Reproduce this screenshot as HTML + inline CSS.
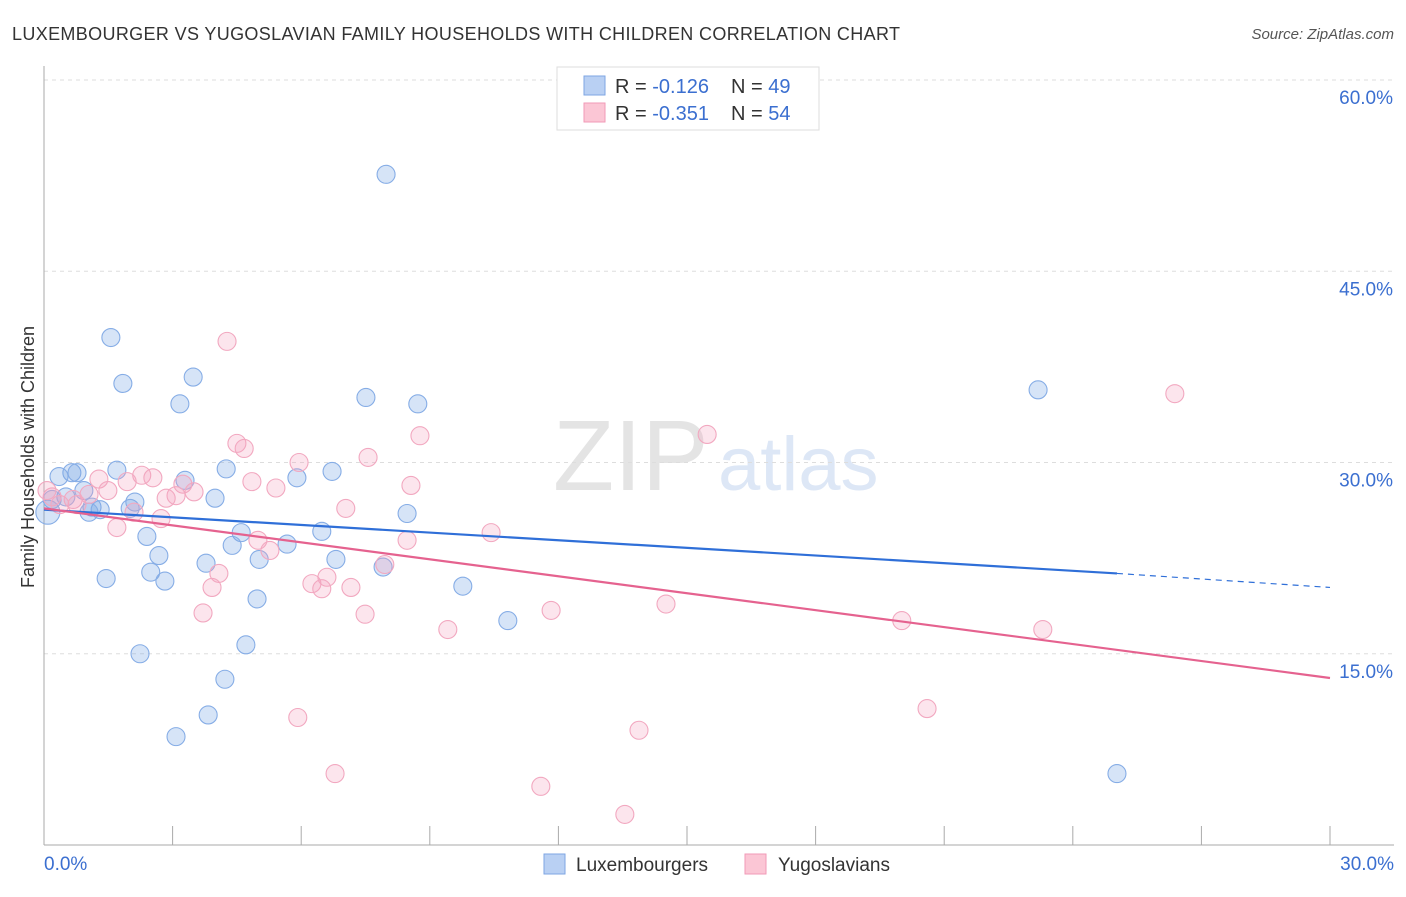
<!DOCTYPE html>
<html><head><meta charset="utf-8"><style>
body{margin:0;background:#fff;font-family:"Liberation Sans",sans-serif}
svg text{font-family:"Liberation Sans",sans-serif}
</style></head><body>
<svg id="chart" width="1406" height="892" viewBox="0 0 1406 892">
<text x="12" y="40" font-size="18" fill="#333" textLength="888">LUXEMBOURGER VS YUGOSLAVIAN FAMILY HOUSEHOLDS WITH CHILDREN CORRELATION CHART</text>
<text x="1394" y="39" font-size="15" fill="#555" text-anchor="end" font-style="italic">Source: ZipAtlas.com</text>
<g>
<text x="553" y="490" font-size="100" fill="#e4e4e4" font-family="Liberation Serif, serif">ZIP</text>
<text x="718" y="490" font-size="76" fill="#dde7f6">atlas</text>
</g>
<g id="grid"></g>
<g id="axes"></g>
<g id="pts"></g>
<g id="trends"></g>
<text transform="translate(34,457) rotate(-90)" font-size="18" fill="#333" text-anchor="middle">Family Households with Children</text>
<g>
<rect x="557" y="67" width="262" height="63" fill="#fff" stroke="#ddd"/>
<rect x="584" y="76" width="21" height="19" fill="#b9d0f3" stroke="#7ea6e3"/>
<rect x="584" y="103" width="21" height="19" fill="#fbc6d5" stroke="#f19ab7"/>
<text x="615" y="93" font-size="20" fill="#333">R = <tspan fill="#3b6fd0">-0.126</tspan></text>
<text x="731" y="93" font-size="20" fill="#333">N = <tspan fill="#3b6fd0">49</tspan></text>
<text x="615" y="120" font-size="20" fill="#333">R = <tspan fill="#3b6fd0">-0.351</tspan></text>
<text x="731" y="120" font-size="20" fill="#333">N = <tspan fill="#3b6fd0">54</tspan></text>
</g>
<g>
<rect x="544" y="854" width="21" height="20" fill="#b9d0f3" stroke="#7ea6e3"/>
<text x="576" y="871" font-size="19" fill="#333">Luxembourgers</text>
<rect x="745" y="854" width="21" height="20" fill="#fbc6d5" stroke="#f19ab7"/>
<text x="778" y="871" font-size="19" fill="#333">Yugoslavians</text>
</g>
</svg>
<script>
const xTicks=[0,3,6,9,12,15,18,21,24,27,30];
const yTicks=[15,30,45,60];
const luxX=[7.98,1.56,1.84,3.48,3.17,7.51,8.72,23.19,1.70,0.65,0.77,0.35,4.25,6.72,3.29,5.90,0.93,3.99,0.51,2.12,0.19,1.12,1.31,1.05,2.01,8.47,0.09,6.48,4.60,2.40,4.39,5.67,2.68,6.81,5.02,3.78,2.49,7.91,1.45,2.82,9.77,4.97,10.82,4.71,2.24,4.22,3.83,3.08,25.03];
const luxY=[52.6,39.8,36.2,36.7,34.6,35.1,34.6,35.7,29.4,29.2,29.2,28.9,29.5,29.3,28.6,28.8,27.8,27.2,27.3,26.9,27.1,26.5,26.3,26.1,26.4,26.0,26.1,24.6,24.5,24.2,23.5,23.6,22.7,22.4,22.4,22.1,21.4,21.8,20.9,20.7,20.3,19.3,17.6,15.7,15.0,13.0,10.2,8.5,5.6];
const yugX=[4.27,26.38,8.77,15.47,4.50,4.67,7.56,5.95,2.28,2.54,1.28,1.94,4.85,3.24,8.56,5.41,1.49,3.50,1.05,3.08,2.85,0.68,0.19,0.37,0.77,7.04,2.10,2.73,1.70,10.43,4.99,8.47,5.27,7.95,4.08,6.60,6.25,7.16,6.48,3.92,3.71,7.49,11.83,14.51,20.01,23.30,9.42,20.60,5.92,13.88,6.79,11.59,13.55,0.07];
const yugY=[39.5,35.4,32.1,32.2,31.5,31.1,30.4,30.0,29.0,28.8,28.7,28.5,28.5,28.3,28.2,28.0,27.8,27.7,27.5,27.4,27.2,27.1,27.3,26.7,26.7,26.4,26.1,25.6,24.9,24.5,23.9,23.9,23.1,22.0,21.3,21.0,20.5,20.2,20.1,20.2,18.2,18.1,18.4,18.9,17.6,16.9,16.9,10.7,10.0,9.0,5.6,4.6,2.4,27.8];
const luxTrendX=[0,25.03,30];
const luxTrendY=[26.3,21.3,20.2];
const yugTrendX=[0,30];
const yugTrendY=[26.4,13.1];
const NS='http://www.w3.org/2000/svg';
const X=v=>44+v*42.867, Y=v=>845-v*12.75;
function mk(tag,attrs,parent){const e=document.createElementNS(NS,tag);for(const k in attrs)e.setAttribute(k,attrs[k]);document.getElementById(parent).appendChild(e);return e;}
yTicks.forEach(t=>{
 const l=mk('line',{x1:44,x2:1394,y1:Y(t),y2:Y(t),stroke:'#ddd','stroke-dasharray':'4,4'},'grid');
 
 
 const tx=mk('text',{x:1393,y:Y(t)+24,'font-size':19,fill:'#3b6fd0','text-anchor':'end'},'grid');
 tx.textContent=t.toFixed(1)+'%';
 
 
});
const ya=mk('line',{x1:44,x2:44,y1:66,y2:845,stroke:'#aaa'},'axes');


const xa=mk('line',{x1:44,x2:1394,y1:845,y2:845,stroke:'#aaa'},'axes');


xTicks.forEach(t=>{
 const l=mk('line',{x1:X(t),x2:X(t),y1:826,y2:845,stroke:'#aaa'},'axes');
 
 
});
[[0,'0.0%','start',44],[30,'30.0%','end',1394]].forEach(a=>{
 const tx=mk('text',{x:a[3],y:870,'font-size':19,fill:'#3b6fd0','text-anchor':a[2]},'axes');
 tx.textContent=a[1];
 
 
});
luxX.forEach((v,i)=>{
 const c=mk('circle',{cx:X(v),cy:Y(luxY[i]),r:i==26?12:9,fill:'rgba(120,165,230,0.3)',stroke:'#86ade6','stroke-width':1.1},'pts');
 
 
});
yugX.forEach((v,i)=>{
 const c=mk('circle',{cx:X(v),cy:Y(yugY[i]),r:9,fill:'rgba(245,160,190,0.28)',stroke:'#f2a8c0','stroke-width':1.1},'pts');
 
 
});
const lt1=mk('line',{x1:X(luxTrendX[0]),y1:Y(luxTrendY[0]),x2:X(luxTrendX[1]),y2:Y(luxTrendY[1]),stroke:'#2f6fd8','stroke-width':2.2},'trends');


const lt2=mk('line',{x1:X(luxTrendX[1]),y1:Y(luxTrendY[1]),x2:X(luxTrendX[2]),y2:Y(luxTrendY[2]),stroke:'#2f6fd8','stroke-width':1.2,'stroke-dasharray':'6,5'},'trends');


const yt=mk('line',{x1:X(yugTrendX[0]),y1:Y(yugTrendY[0]),x2:X(yugTrendX[1]),y2:Y(yugTrendY[1]),stroke:'#e5628f','stroke-width':2.2},'trends');


</script>
</body></html>
